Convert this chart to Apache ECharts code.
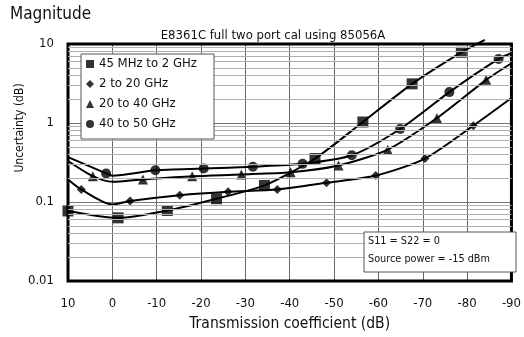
<!DOCTYPE html>
<html><head><meta charset="utf-8">
<script src="https://cdn.jsdelivr.net/npm/echarts@6/dist/echarts.min.js"></script>
<style>html,body{margin:0;padding:0;background:#fff}#c{width:524px;height:337px}</style>
</head><body><div id="c"></div>
<script>
const FONT = "'Liberation Sans Narrow','DejaVu Sans Condensed','Roboto Condensed',sans-serif";
const xTicks = [10, 0, -10, -20, -30, -40, -50, -60, -70, -80, -90];
const yTicks = [0.01, 0.1, 1, 10];
const minorGrid = [0.02,0.03,0.04,0.05,0.06,0.07,0.08,0.09,0.2,0.3,0.4,0.5,0.6,0.7,0.8,0.9,2,3,4,5,6,7,8,9];
const names = ['45 MHz to 2 GHz', '2 to 20 GHz', '20 to 40 GHz', '40 to 50 GHz'];
const symbols = ['rect', 'diamond', 'triangle', 'circle'];
const symSizes = [11, 9, 10, 10];

const sqMarks = [[10,0.077],[-1.3,0.063],[-12.4,0.078],[-23.5,0.110],[-34.3,0.162],[-45.7,0.355],[-56.5,1.03],[-67.6,3.13],[-78.7,7.85]];
const sqBends = [[-84,11.3]];
const diMarks = [[7,0.144],[-4,0.103],[-15.2,0.122],[-26.1,0.135],[-37.2,0.144],[-48.3,0.175],[-59.4,0.216],[-70.5,0.355],[-81.4,0.925]];
const diBends = [[10,0.193],[0,0.093],[-90,2.07]];
const trMarks = [[4.4,0.212],[-6.9,0.193],[-18,0.212],[-29.1,0.223],[-40.2,0.238],[-51,0.29],[-62.1,0.46],[-73.2,1.156],[-84.3,3.52]];
const trBends = [[10,0.33],[0,0.18],[-90,5.71]];
const ciMarks = [[1.4,0.23],[-9.7,0.252],[-20.6,0.265],[-31.7,0.28],[-42.9,0.304],[-54,0.39],[-64.9,0.84],[-76,2.46],[-87.1,6.47]];
const ciBends = [[10,0.37],[0,0.215],[-90,7.63]];

const marks = [sqMarks, diMarks, trMarks, ciMarks];
const bends = [sqBends, diBends, trBends, ciBends];

const chart = echarts.init(document.getElementById('c'), null, {renderer: 'canvas'});
const series = [];
series.push({
  type: 'line', data: [], silent: true,
  markLine: {
    silent: true, symbol: 'none', label: {show: false}, animation: false,
    lineStyle: {color: '#b0b0b0', width: 1, type: 'solid'},
    data: minorGrid.map(v => ({yAxis: v}))
  }
});
for (let i = 0; i < 4; i++) {
  const pts = marks[i].concat(bends[i]).sort((a, b) => b[0] - a[0]);
  series.push({
    type: 'line', data: pts, showSymbol: false, smooth: 0.25,
    clip: i !== 0, silent: true, z: 3,
    lineStyle: {color: '#000', width: 2}
  });
  series.push({
    type: 'scatter', name: names[i], data: marks[i], symbol: symbols[i],
    symbolSize: symSizes[i], itemStyle: {color: '#000'}, z: 4, clip: false
  });
}

chart.setOption({
  animation: false,
  textStyle: {fontFamily: FONT},
  grid: {left: 68, right: 5, top: 44, bottom: 55, show: true, borderColor: '#000', borderWidth: 3, backgroundColor: 'transparent', z: 5},
  xAxis: {
    type: 'value', inverse: true, min: -90, max: 10, interval: 10,
    axisLine: {show: false}, axisTick: {show: false},
    axisLabel: {color: '#111', fontSize: 13, fontFamily: FONT, margin: 16, formatter: v => String(v)},
    splitLine: {show: true, lineStyle: {color: '#666', width: 1}},
    name: 'Transmission coefficient (dB)', nameLocation: 'middle', nameGap: 35,
    nameTextStyle: {color: '#111', fontSize: 15.5, fontFamily: FONT}
  },
  yAxis: {
    type: 'log', logBase: 10, min: 0.01, max: 10,
    axisLine: {show: false}, axisTick: {show: false},
    axisLabel: {color: '#111', fontSize: 13, fontFamily: FONT, margin: 14,
      formatter: v => { const r = yTicks.find(t => Math.abs(t - v) / t < 1e-6); return r !== undefined ? String(r) : ''; }},
    splitLine: {show: true, lineStyle: {color: '#777', width: 1}}
  },
  legend: {
    orient: 'vertical', left: 81, top: 52, itemGap: 6, itemWidth: 8, itemHeight: 8, z: 20,
    data: names.map((n, i) => ({name: n, icon: symbols[i]})),
    textStyle: {color: '#111', fontSize: 13, fontFamily: FONT, lineHeight: 14},
    selectedMode: false
  },
  graphic: [
    {type: 'text', left: 10, top: 6, style: {text: 'Magnitude', font: '17px ' + FONT, fill: '#111'}},
    {type: 'text', x: 273, y: 36, style: {text: 'E8361C full two port cal using 85056A', font: '13px ' + FONT, fill: '#111', textAlign: 'center', textVerticalAlign: 'middle'}},
    {type: 'text', x: 20, y: 128, rotation: Math.PI / 2, style: {text: 'Uncertainty (dB)', font: '12px ' + FONT, fill: '#111', textAlign: 'center', textVerticalAlign: 'middle'}},
    {type: 'rect', shape: {x: 81, y: 54, width: 133, height: 85}, style: {fill: '#fff', stroke: '#555', lineWidth: 1}, z: 6},
    {type: 'rect', shape: {x: 364, y: 232, width: 152, height: 40}, style: {fill: '#fff', stroke: '#555', lineWidth: 1}, z: 6},
    {type: 'text', x: 368, y: 241, style: {text: 'S11 = S22 = 0', font: '10.8px ' + FONT, fill: '#111', textVerticalAlign: 'middle'}, z: 11},
    {type: 'text', x: 368, y: 259, style: {text: 'Source power = -15 dBm', font: '10.8px ' + FONT, fill: '#111', textVerticalAlign: 'middle'}, z: 11}
  ],
  series: series
});
</script></body></html>
